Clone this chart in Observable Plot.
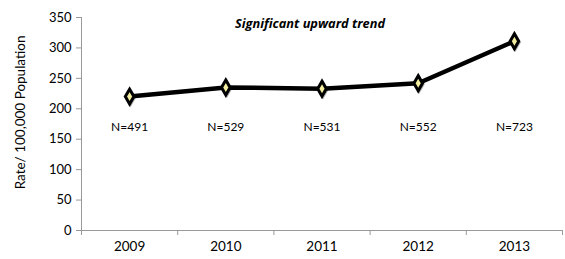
<!DOCTYPE html>
<html><head><meta charset="utf-8">
<script src="https://cdn.jsdelivr.net/npm/d3@7"></script>
<script src="https://cdn.jsdelivr.net/npm/@observablehq/plot@0.6"></script>
<style>body{margin:0;background:#fff}</style>
</head><body><div id="chart"></div>
<script>
const years = [2009, 2010, 2011, 2012, 2013];
const rates = [220, 235, 233, 242, 311];
const counts = ["N=491", "N=529", "N=531", "N=552", "N=723"];
const labelLevel = 170;
const yLabelLevel = 194;
const yTicks = [0, 50, 100, 150, 200, 250, 300, 350];
const title = "Significant upward trend";
const yLabel = "Rate/ 100,000 Population";

const data = years.map((y, i) => ({year: y, rate: rates[i], n: counts[i]}));
const bounds = years.map(y => y - 0.5).concat([years[years.length - 1] + 0.5]);

const chart = Plot.plot({
  width: 565, height: 259,
  marginLeft: 81, marginRight: 3, marginTop: 17, marginBottom: 29,
  style: {fontFamily: "Lato, sans-serif", fontSize: "13px", color: "#000", background: "#fff"},
  x: {domain: [bounds[0], bounds[bounds.length - 1]]},
  y: {domain: [0, 350]},
  marks: [
    Plot.axisY({ticks: yTicks, tickSize: 5, tickPadding: 5, stroke: "#999", label: null, fontSize: 13}),
    Plot.ruleX([bounds[0]], {stroke: "#999"}),
    Plot.ruleY([0], {stroke: "#999"}),
    Plot.axisX({ticks: bounds, tickSize: 5, tickFormat: () => "", stroke: "#999", label: null}),
    Plot.axisX({ticks: years, tickSize: 0, tickPadding: 11, tickFormat: d => String(d), label: null, fontSize: 13.5}),
    Plot.text([yLabel], {frameAnchor: "left", y: () => yLabelLevel, textAnchor: "middle", dx: -61, rotate: -90, fontSize: 13.5}),
    Plot.text([title], {frameAnchor: "top", dx: -12, dy: 1, fontFamily: "'Open Sans', sans-serif", fontWeight: "bold", fontStyle: "italic", fontSize: 12.8}),
    Plot.line(data, {x: "year", y: "rate", stroke: "#000", strokeWidth: 4.5}),
    Plot.dot(data, {x: "year", y: "rate", symbol: "diamond", r: 5, fill: "#000", stroke: "#000", strokeWidth: 1.5, dx: 1, dy: 1, opacity: 0.3}),
    Plot.dot(data, {x: "year", y: "rate", symbol: "diamond", r: 4.5, fill: "#f4eea0", stroke: "#000", strokeWidth: 3}),
    Plot.text(data, {x: "year", y: () => labelLevel, text: "n", fontSize: 12})
  ]
});
document.getElementById("chart").appendChild(chart);
</script></body></html>
